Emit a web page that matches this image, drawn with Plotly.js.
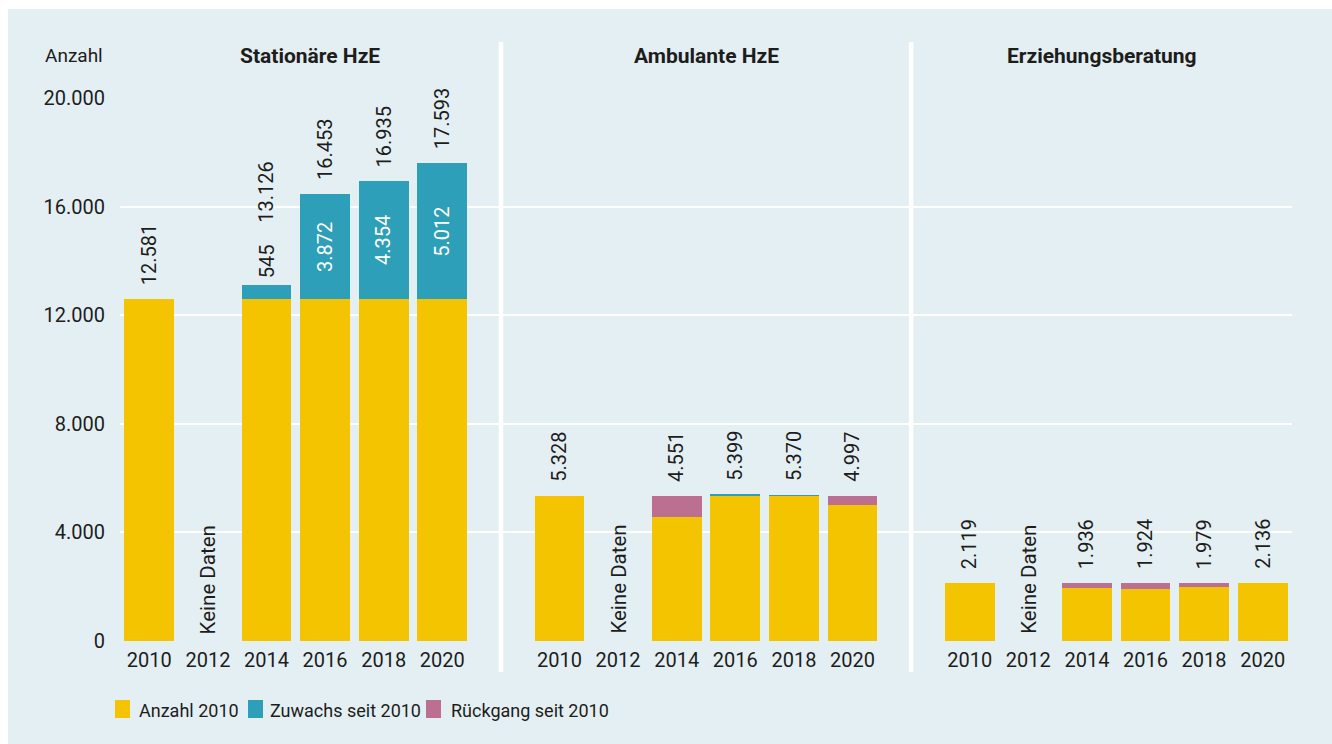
<!DOCTYPE html>
<html><head><meta charset="utf-8">
<script src="https://cdn.plot.ly/plotly-3.0.1.min.js"></script>
<style>
html,body{margin:0;padding:0;background:#fff;width:1332px;height:744px;overflow:hidden}
#chart{position:absolute;left:8px;top:9px;width:1324px;height:735px}
</style></head><body><div id="chart"></div>
<script>
// ---- data ----
const years = ['2010','2012','2014','2016','2018','2020'];
const panelTitles = ['Stationäre HzE','Ambulante HzE','Erziehungsberatung'];
const stationaer = [12581, null, 13126, 16453, 16935, 17593];
const ambulant   = [5328, null, 4551, 5399, 5370, 4997];
const beratung   = [2119, null, 1936, 1924, 1979, 2136];
const showChangeLabel = [true, false, false];
const seriesNames = ['Anzahl 2010','Zuwachs seit 2010','Rückgang seit 2010'];
const noDataText = 'Keine Daten';
const yAxisLabel = 'Anzahl';
const yTicks = [0, 4000, 8000, 12000, 16000, 20000];

// ---- style ----
const colors = ['#f5c400','#2e9fb8','#bb7092'];
const bg = '#e4eff4';
const txt = '#1d1d1b';
const FONT = 'Roboto, "Noto Sans", Arial, sans-serif';
const W = 1324, H = 735, OX = 8, OY = 9;
const M = {l:112, r:40, t:89, b:103};
const PW = W - M.l - M.r, PH = H - M.t - M.b;
const px = a => (a - OX - M.l) / PW;
const py = a => (H - M.b - (a - OY)) / PH;
const fmt = n => String(n).replace(/\B(?=(\d{3})+(?!\d))/g, '.');

const panels = [stationaer, ambulant, beratung];
const domains = [[0,0.325],[0.325,0.675],[0.675,1]];
const ranges = [[-0.5,6.0],[-1,6],[-1,5.5]];
const yMax = 20000;

const traces = [];
const annotations = [];
panels.forEach((arr, p) => {
  const xa = p === 0 ? 'x' : 'x' + (p + 1);
  const base = arr[0];
  const baseSeg = arr.map(v => v == null ? null : Math.min(v, base));
  const inc = arr.map(v => v == null || v <= base ? null : v - base);
  const dec = arr.map(v => v == null || v >= base ? null : base - v);
  [baseSeg, inc, dec].forEach((vals, s) => {
    traces.push({
      type:'bar', x: years, y: vals, xaxis: xa, yaxis:'y',
      name: seriesNames[s], marker:{color: colors[s], line:{width:0}},
      width: 0.853, showlegend:false, hoverinfo:'skip'
    });
  });
  arr.forEach((v, i) => {
    if (v == null) {
      annotations.push({xref:xa, yref:'y', x: i, y:0, yanchor:'bottom', xanchor:'center',
        yshift:5, text: noDataText, textangle:-90, showarrow:false, font:{family:FONT,size:20.5,color:txt}});
      return;
    }
    const top = Math.max(v, base);
    let shift = 12;
    if (showChangeLabel[p] && inc[i] != null) {
      const segPx = inc[i] * PH / yMax;
      const label = fmt(inc[i]);
      if (segPx > label.length * 11.3 + 16) {
        annotations.push({xref:xa, yref:'y', x: i, y: base + inc[i]/2, yanchor:'middle', xanchor:'center',
          text: label, textangle:-90, showarrow:false, font:{family:FONT,size:20,color:'#ffffff'}});
      } else {
        annotations.push({xref:xa, yref:'y', x: i, y: top, yanchor:'bottom', xanchor:'center',
          yshift:4, text: label, textangle:-90, showarrow:false, font:{family:FONT,size:20,color:txt}});
        shift = 4 + label.length * 11.3 + 22;
      }
    }
    annotations.push({xref:xa, yref:'y', x: i, y: top, yanchor:'bottom', xanchor:'center',
      yshift: shift, text: fmt(v), textangle:-90, showarrow:false, font:{family:FONT,size:20,color:txt}});
  });
  annotations.push({xref:'paper', yref:'paper', x:(domains[p][0]+domains[p][1])/2, y: py(56),
    xanchor:'center', yanchor:'middle', text:'<b>'+panelTitles[p]+'</b>', showarrow:false,
    font:{family:FONT,size:21,color:txt}});
});
annotations.push({xref:'paper', yref:'paper', x: px(105), y: py(56), xanchor:'right', yanchor:'middle',
  text: yAxisLabel, showarrow:false, font:{family:FONT,size:19,color:txt}});

// legend (manual)
const shapes = [];
const legSq = [115, 248, 426], legTx = [137, 268, 449];
seriesNames.forEach((n, s) => {
  shapes.push({type:'rect', xref:'paper', yref:'paper', x0:px(legSq[s]), x1:px(legSq[s]+15),
    y0:py(718), y1:py(700), fillcolor:colors[s], line:{width:0}});
  annotations.push({xref:'paper', yref:'paper', x:px(legTx[s]), y:py(710), xanchor:'left', yanchor:'middle',
    text:n, showarrow:false, font:{family:FONT,size:18,color:txt}});
});
// separators
[domains[0][1], domains[1][1]].forEach(x => {
  shapes.push({type:'line', xref:'paper', yref:'paper', x0:x, x1:x, y0:py(672), y1:py(42),
    line:{color:'#ffffff', width:4.5}});
});

const xaxisBase = {type:'category', categoryorder:'array', categoryarray: years, showgrid:false,
  zeroline:false, showline:false, ticks:'', ticklabelstandoff:5, tickfont:{family:FONT,size:20,color:txt}, fixedrange:true};
const layout = {
  width: W, height: H, margin: M,
  paper_bgcolor: bg, plot_bgcolor: 'rgba(0,0,0,0)',
  barmode:'stack', separators: ',.', showlegend:false,
  font:{family:FONT, color:txt},
  xaxis: Object.assign({}, xaxisBase, {domain:domains[0], range:ranges[0], anchor:'y'}),
  xaxis2: Object.assign({}, xaxisBase, {domain:domains[1], range:ranges[1], anchor:'y'}),
  xaxis3: Object.assign({}, xaxisBase, {domain:domains[2], range:ranges[2], anchor:'y'}),
  yaxis: {range:[0, yMax], tickvals: yTicks, tickformat:',d', showgrid:true, gridcolor:'#ffffff', gridwidth:2,
    zeroline:false, showline:false, ticks:'', ticklabelstandoff:14, tickfont:{family:FONT,size:20,color:txt}, fixedrange:true},
  annotations, shapes
};
Plotly.newPlot('chart', traces, layout, {displayModeBar:false, staticPlot:true});
</script></body></html>
